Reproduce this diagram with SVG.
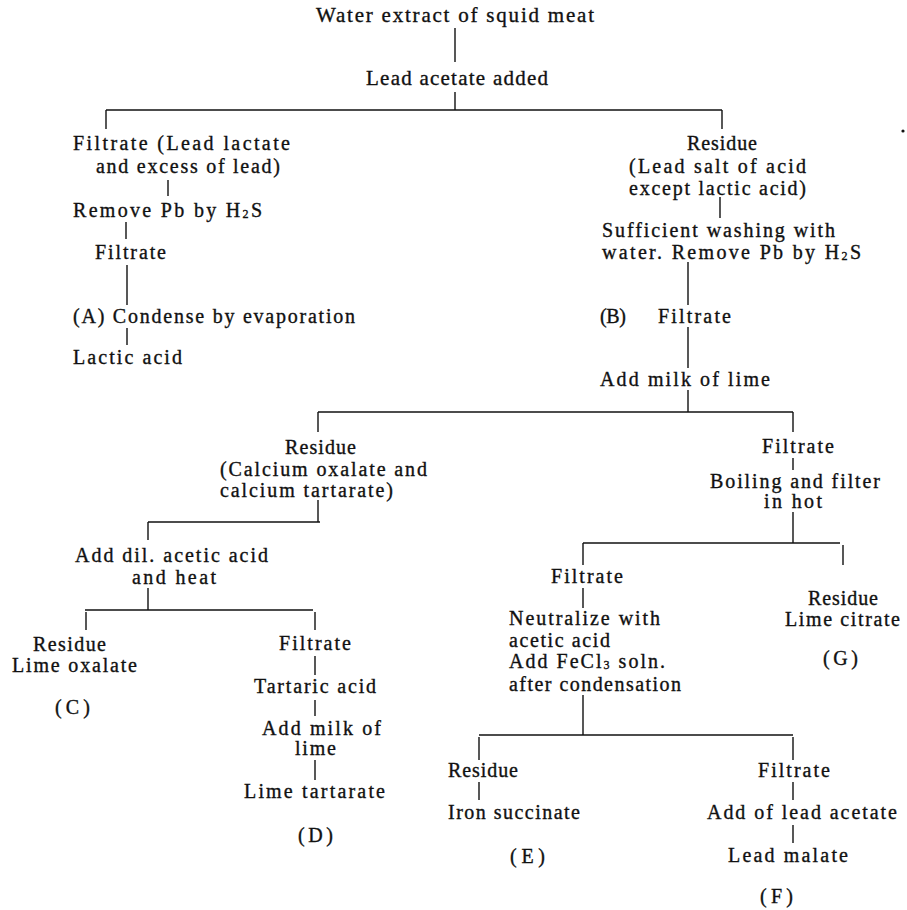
<svg xmlns="http://www.w3.org/2000/svg" width="907" height="910" viewBox="0 0 907 910">
<style>
text{font-family:"Liberation Serif","DejaVu Serif",serif;font-size:20px;fill:#111;stroke:#111;stroke-width:0.35}
.title{font-size:21px}
.sub{font-size:12px}
#connectors line{stroke:#111;stroke-width:1.4}
</style>
<rect width="907" height="910" fill="#fff"/>
<g id="connectors">
<line x1="455" y1="28" x2="455" y2="62"/>
<line x1="455" y1="92" x2="455" y2="110"/>
<line x1="106" y1="110" x2="722" y2="110"/>
<line x1="106" y1="110" x2="106" y2="129"/>
<line x1="722" y1="110" x2="722" y2="129"/>
<line x1="168" y1="180" x2="168" y2="196"/>
<line x1="126" y1="222" x2="126" y2="239"/>
<line x1="127" y1="265" x2="127" y2="305"/>
<line x1="127" y1="328" x2="127" y2="345"/>
<line x1="720" y1="197" x2="720" y2="218"/>
<line x1="688" y1="262" x2="688" y2="305"/>
<line x1="688" y1="327" x2="688" y2="368"/>
<line x1="688" y1="390" x2="688" y2="412"/>
<line x1="318" y1="412" x2="793" y2="412"/>
<line x1="318" y1="412" x2="318" y2="432"/>
<line x1="793" y1="412" x2="793" y2="432"/>
<line x1="318" y1="500" x2="318" y2="522"/>
<line x1="148" y1="522" x2="320" y2="522"/>
<line x1="148" y1="522" x2="148" y2="540"/>
<line x1="148" y1="588" x2="148" y2="610"/>
<line x1="85" y1="610" x2="313" y2="610"/>
<line x1="86" y1="612" x2="86" y2="630"/>
<line x1="315" y1="612" x2="315" y2="630"/>
<line x1="315" y1="656" x2="315" y2="675"/>
<line x1="315" y1="700" x2="315" y2="716"/>
<line x1="315" y1="760" x2="315" y2="780"/>
<line x1="793" y1="458" x2="793" y2="470"/>
<line x1="793" y1="512" x2="793" y2="543"/>
<line x1="583" y1="543" x2="840" y2="543"/>
<line x1="583" y1="543" x2="583" y2="565"/>
<line x1="843" y1="545" x2="843" y2="565"/>
<line x1="583" y1="588" x2="583" y2="608"/>
<line x1="583" y1="695" x2="583" y2="735"/>
<line x1="479" y1="735" x2="793" y2="735"/>
<line x1="479" y1="737" x2="479" y2="760"/>
<line x1="793" y1="737" x2="793" y2="760"/>
<line x1="479" y1="782" x2="479" y2="800"/>
<line x1="793" y1="782" x2="793" y2="800"/>
<line x1="793" y1="825" x2="793" y2="843"/>
</g>
<g id="n-water"><text class="title" x="316" y="22" textLength="278" lengthAdjust="spacing">Water extract of squid meat</text></g>
<g id="n-leadacetate"><text class="title" x="366" y="85" textLength="182" lengthAdjust="spacing">Lead acetate added</text></g>
<g id="n-filtrate1">
<text x="73" y="150" textLength="217" lengthAdjust="spacing">Filtrate (Lead lactate</text>
<text x="96" y="173" textLength="184" lengthAdjust="spacing">and excess of lead)</text>
</g>
<g id="n-removepb1"><text x="73" y="217" textLength="189" lengthAdjust="spacing">Remove Pb by H<tspan class="sub" dy="1">2</tspan><tspan dy="-1">S</tspan></text></g>
<g id="n-filtrate2"><text x="95" y="259" textLength="71" lengthAdjust="spacing">Filtrate</text></g>
<g id="n-condense"><text x="73" y="323" textLength="282" lengthAdjust="spacing">(A) Condense by evaporation</text></g>
<g id="n-lactic"><text x="73" y="364" textLength="109" lengthAdjust="spacing">Lactic acid</text></g>
<g id="n-residue1">
<text x="687" y="150" textLength="70" lengthAdjust="spacing">Residue</text>
<text x="629" y="173" textLength="177" lengthAdjust="spacing">(Lead salt of acid</text>
<text x="629" y="195" textLength="177" lengthAdjust="spacing">except lactic acid)</text>
</g>
<g id="n-washing">
<text x="602" y="237" textLength="233" lengthAdjust="spacing">Sufficient washing with</text>
<text x="602" y="259" textLength="259" lengthAdjust="spacing">water. Remove Pb by H<tspan class="sub" dy="1">2</tspan><tspan dy="-1">S</tspan></text>
</g>
<g id="n-filtrateB">
<text x="600" y="323" textLength="26" lengthAdjust="spacing">(B)</text>
<text x="658" y="323" textLength="73" lengthAdjust="spacing">Filtrate</text>
</g>
<g id="n-milklime1"><text x="600" y="386" textLength="170" lengthAdjust="spacing">Add milk of lime</text></g>
<g id="n-residue2">
<text x="285" y="454" textLength="71" lengthAdjust="spacing">Residue</text>
<text x="220" y="476" textLength="207" lengthAdjust="spacing">(Calcium oxalate and</text>
<text x="220" y="497" textLength="173" lengthAdjust="spacing">calcium tartarate)</text>
</g>
<g id="n-dilacetic">
<text x="75" y="562" textLength="193" lengthAdjust="spacing">Add dil. acetic acid</text>
<text x="132" y="584" textLength="84" lengthAdjust="spacing">and heat</text>
</g>
<g id="n-limeoxalate">
<text x="33" y="651" textLength="73" lengthAdjust="spacing">Residue</text>
<text x="12" y="672" textLength="125" lengthAdjust="spacing">Lime oxalate</text>
<text x="55" y="714" textLength="35" lengthAdjust="spacing">(C)</text>
</g>
<g id="n-filtrate3"><text x="279" y="650" textLength="72" lengthAdjust="spacing">Filtrate</text></g>
<g id="n-tartaric"><text x="254" y="693" textLength="122" lengthAdjust="spacing">Tartaric acid</text></g>
<g id="n-milklime2">
<text x="262" y="735" textLength="119" lengthAdjust="spacing">Add milk of</text>
<text x="295" y="755" textLength="41" lengthAdjust="spacing">lime</text>
</g>
<g id="n-limetartarate">
<text x="244" y="798" textLength="141" lengthAdjust="spacing">Lime tartarate</text>
<text x="298" y="842" textLength="35" lengthAdjust="spacing">(D)</text>
</g>
<g id="n-filtrate4"><text x="762" y="453" textLength="72" lengthAdjust="spacing">Filtrate</text></g>
<g id="n-boiling">
<text x="710" y="488" textLength="170" lengthAdjust="spacing">Boiling and filter</text>
<text x="764" y="508" textLength="58" lengthAdjust="spacing">in hot</text>
</g>
<g id="n-filtrate5"><text x="551" y="583" textLength="72" lengthAdjust="spacing">Filtrate</text></g>
<g id="n-neutralize">
<text x="509" y="625" textLength="151" lengthAdjust="spacing">Neutralize with</text>
<text x="509" y="647" textLength="101" lengthAdjust="spacing">acetic acid</text>
<text x="509" y="668" textLength="156" lengthAdjust="spacing">Add FeCl<tspan class="sub" dy="1">3</tspan><tspan dy="-1"> soln.</tspan></text>
<text x="509" y="691" textLength="172" lengthAdjust="spacing">after condensation</text>
</g>
<g id="n-limecitrate">
<text x="808" y="605" textLength="70" lengthAdjust="spacing">Residue</text>
<text x="785" y="626" textLength="115" lengthAdjust="spacing">Lime citrate</text>
<text x="823" y="665" textLength="35" lengthAdjust="spacing">(G)</text>
</g>
<g id="n-residue3"><text x="448" y="777" textLength="70" lengthAdjust="spacing">Residue</text></g>
<g id="n-ironsuccinate">
<text x="448" y="819" textLength="132" lengthAdjust="spacing">Iron succinate</text>
<text x="510" y="863" textLength="35" lengthAdjust="spacing">(E)</text>
</g>
<g id="n-filtrate6"><text x="758" y="777" textLength="72" lengthAdjust="spacing">Filtrate</text></g>
<g id="n-addlead"><text x="707" y="819" textLength="190" lengthAdjust="spacing">Add of lead acetate</text></g>
<g id="n-leadmalate">
<text x="728" y="862" textLength="120" lengthAdjust="spacing">Lead malate</text>
<text x="760" y="903" textLength="33" lengthAdjust="spacing">(F)</text>
</g>
<circle cx="903" cy="131" r="1.6" fill="#111"/>
</svg>
